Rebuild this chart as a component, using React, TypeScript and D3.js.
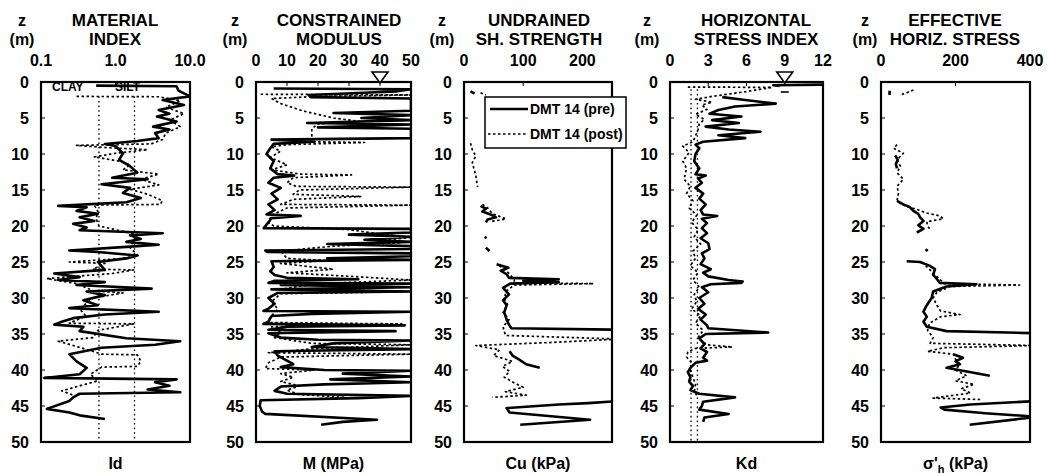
import React from "react";
import * as d3 from "d3";

type P = [number, number | null];

// depth axis
const DEPTH_TICKS = [0, 5, 10, 15, 20, 25, 30, 35, 40, 45, 50];

// top-axis ticks
const idTicks = [0.1, 1, 10];
const idTickLabels = ["0.1", "1.0", "10.0"];
const mTicks = [0, 10, 20, 30, 40, 50];
const cuTicks = [0, 100, 200];
const kdTicks = [0, 3, 6, 9, 12];
const shTicks = [0, 200, 400];

// reference lines
const idBoundaries = [0.6, 1.8]; // CLAY | SILT | SAND limits
const kdReference = [1.65, 2.15];

// ---------- Material index Id ----------
const idPre: P[] = [
  [0.5, 0.55], [0.6, 6.6], [1.2, 7.0], [2.0, 10], [2.5, 4.3], [3.2, 8.3], [3.9, 3.8], [4.4, 5.3], [4.8, 3.6],
  [5.5, 6.6], [6.2, 3.2], [6.6, 5.3], [7.1, 3.4], [7.8, 3.8], [8.2, 1.96], [8.6, 0.72], [8.9, 1.0], [9.9, 1.26],
  [10.8, 1.12], [11.7, 1.57], [12.6, 1.96], [13.3, 0.9], [13.5, 2.7], [14.2, 0.65], [14.7, 1.57], [15.4, 1.26],
  [16.1, 2.19], [16.7, 1.4], [17.2, 0.17], [17.4, 0.41], [17.9, 0.3], [18.3, 0.58], [18.8, 0.33], [19.3, 0.52],
  [19.7, 0.27], [20.2, 0.41], [20.6, 0.33], [21.0, 4.3], [21.3, 1.57], [21.8, 2.19], [22.2, 1.4], [22.6, 3.8],
  [22.9, 1.4], [23.4, 0.24], [23.6, 0.58], [24.1, 1.96], [24.5, 1.4], [25.0, 0.58], [26.1, 0.72], [26.6, 0.15],
  [27.1, 0.33], [27.5, 0.17], [27.8, 0.72], [28.2, 0.3], [28.7, 3.05], [29.1, 0.41], [29.6, 0.72], [30.3, 0.37],
  [31.0, 0.58], [31.4, 0.24], [31.9, 3.8], [32.3, 0.72], [32.8, 0.27], [33.3, 0.19], [33.7, 0.15], [34.0, 0.37],
  [34.6, 0.33], [35.6, 1.4], [36.0, 7.4], [36.5, 3.4], [36.9, 0.65], [37.8, 0.24], [38.8, 0.3], [39.7, 0.41],
  [40.6, 0.33], [41.1, 0.11], [41.3, 6.6], [41.7, 3.4], [42.2, 5.3], [42.7, 2.7], [43.1, 7.4], [43.3, 0.33],
  [43.8, 0.27], [44.3, 0.24], [45.4, 0.12], [45.9, 0.24], [46.3, 0.33], [46.8, 0.72],
];
const idPost: P[] = [
  [2.0, 0.3], [2.05, 3.8], [2.6, 7.4], [3.5, 4.75], [4.4, 8.3], [5.3, 5.3], [6.2, 7.4], [7.1, 4.75], [8.0, 4.26],
  [8.6, 3.0], [8.8, 0.3], [9.1, 0.72], [9.4, 2.7], [9.9, 1.0], [10.4, 0.52], [11.0, 1.12], [11.5, 1.57],
  [12.2, 1.26], [12.8, 3.8], [13.5, 2.19], [14.3, 3.8], [14.9, 1.57], [15.6, 2.73], [16.5, 4.26], [17.0, 4.0],
  [17.1, 0.52], [18.0, 0.58], [19.0, 0.55], [20.0, 0.6], [21.2, 1.96], [22.0, 1.75], [23.0, 1.57], [24.1, 2.0],
  [24.5, 1.26], [25.0, 0.24], [25.2, 0.72], [26.0, 0.5], [26.1, 1.75], [26.6, 0.9], [27.3, 0.12], [28.0, 0.3],
  [29.0, 0.5], [29.3, 1.26], [30.0, 0.5], [31.5, 0.33], [32.5, 0.4], [33.5, 0.24], [33.6, 1.75], [34.5, 0.58],
  [35.5, 0.5], [36.0, 0.17], [36.6, 0.27], [37.3, 0.46], [37.8, 0.65], [37.9, 1.96], [38.8, 2.19], [39.5, 1.96],
  [39.6, 0.65], [40.6, 0.46], [41.5, 0.58], [42.2, 0.33], [42.9, 0.19], [43.5, 0.27],
];

// ---------- Constrained modulus M (MPa) ----------
const mPre: P[] = [
  [0.9, 5.7], [1.0, 50], [1.3, 45], [1.5, 35], [1.8, 17], [2.1, 17.7], [2.3, 50], [4.0, 50], [4.3, 25], [4.6, 50],
  [5.0, 34], [5.3, 50], [5.7, 16.5], [5.9, 50], [6.3, 20], [6.5, 50], [7.8, 50], [8.0, 5], [8.3, 18.8], [8.6, 5.7],
  [9.2, 4.6], [10.0, 3.4], [11.0, 5.7], [12.0, 4.6], [12.8, 7], [13.0, 12.3], [13.3, 5.7], [14.0, 4], [14.7, 8],
  [15.5, 5], [16.3, 7], [17.0, 4], [17.8, 6], [18.4, 3.4], [18.6, 14.4], [18.9, 5], [19.5, 4], [20.3, 2.5],
  [20.4, 50], [20.9, 50], [21.2, 30], [21.5, 50], [21.9, 35], [22.2, 50], [22.5, 23], [22.8, 50], [23.2, 50],
  [23.4, 3], [23.6, 3.5], [23.8, 50], [24.2, 50], [24.5, 23], [24.7, 50], [24.9, 5], [25.7, 5.7], [26.3, 4.6],
  [26.8, 6], [27.2, 10], [27.4, 33], [27.6, 6], [27.9, 4], [28.0, 50], [28.2, 8], [28.5, 50], [28.8, 5],
  [29.1, 50], [29.3, 7], [30.0, 4], [30.8, 6], [31.5, 4], [31.8, 2.4], [31.9, 50], [32.2, 18], [32.5, 5],
  [33.3, 4], [33.6, 2.4], [33.8, 48], [34.0, 10], [34.4, 4], [34.6, 45], [34.9, 4], [35.5, 8], [35.8, 20],
  [35.9, 50], [36.3, 25], [36.8, 18], [37.1, 50], [37.4, 6], [38.0, 7], [38.7, 10], [39.2, 12], [39.6, 8],
  [40.0, 22], [40.1, 50], [40.5, 28], [40.9, 50], [41.3, 24], [41.7, 50], [42.0, 22], [42.3, 8], [42.9, 6],
  [43.3, 10], [43.6, 50], [43.9, 33], [44.2, 1.5], [45.0, 1.2], [45.8, 2], [46.1, 3], [46.9, 39], [47.2, 28],
  [47.6, 21],
];
const mPost: P[] = [
  [1.7, 1.5], [1.8, 50], [2.0, 20], [2.3, 5], [3.0, 8], [4.0, 15], [5.0, 25], [5.5, 34], [5.8, 20], [6.5, 18],
  [7.5, 18], [8.3, 17.7], [8.4, 35], [8.7, 10], [9.0, 5], [9.6, 7.9], [10.5, 4.6], [11.5, 10], [12.2, 5],
  [12.8, 14.4], [12.9, 30.8], [13.3, 12], [14.0, 10], [14.5, 13], [14.6, 50], [15.0, 14], [15.6, 12], [15.9, 34],
  [16.3, 12], [17.0, 8], [17.1, 50], [17.5, 10], [18.5, 5], [19.5, 4], [20.0, 5.7], [20.5, 30], [21.0, 38],
  [21.6, 50], [22.0, 40], [22.3, 47], [22.8, 25], [23.5, 8], [24.5, 10], [24.8, 23], [25.2, 7.9], [26.0, 25],
  [26.5, 10], [27.0, 30.8], [27.5, 50], [28.0, 20], [28.8, 7.9], [29.1, 50], [29.4, 8], [30.5, 5], [31.5, 7],
  [32.5, 5], [33.4, 3.4], [33.6, 47], [34.0, 5], [34.8, 8], [35.5, 6], [36.3, 18], [36.5, 50], [37.0, 20],
  [37.6, 4], [37.8, 50], [38.2, 8], [39.0, 4], [39.8, 3], [40.0, 18.8], [40.5, 8], [41.0, 12], [41.6, 8],
  [42.2, 14], [42.8, 10], [43.4, 14], [43.8, 28.6], [44.0, 20],
];

// ---------- Undrained shear strength Cu (kPa) ----------
const cuPre: P[] = [
  [1.3, 11], [1.6, 18], [1.7, null],
  [17.2, 28], [17.6, 37], [18.0, 31], [18.4, 45], [18.8, 54], [19.1, 40], [19.5, 37], [19.6, null],
  [21.5, 35], [21.7, 38], [21.8, null],
  [23.0, 37], [23.5, 43], [23.6, null],
  [25.3, 55], [25.8, 75], [26.2, 62], [26.7, 72], [27.2, 76], [27.4, 160], [27.6, 100], [27.8, 160], [28.0, 78],
  [28.6, 66], [29.5, 76], [30.3, 66], [31.0, 72], [32.0, 68], [33.0, 72], [33.7, 76], [34.2, 80], [34.4, 262],
  [34.5, null],
  [37.4, 77], [38.0, 82], [38.6, 94], [39.2, 105], [39.7, 128], [39.8, null],
  [44.3, 262], [44.6, 210], [44.8, 160], [45.3, 72], [45.9, 77], [46.9, 213], [47.6, 95],
];
const cuPost: P[] = [
  [1.5, 28], [1.8, 37], [1.9, null],
  [8.5, 11], [9.4, 14], [10.3, 20], [11.2, 14], [13.0, 20], [14.6, 23], [14.7, null],
  [17.0, 31], [17.5, 40], [18.3, 48], [19.0, 71], [19.4, 45], [19.5, null],
  [25.5, 60], [26.5, 75], [27.5, 85], [27.9, 85], [28.0, 219], [28.2, 85], [29.0, 72], [30.0, 68], [31.0, 74],
  [32.0, 66], [33.0, 76], [34.0, 66], [35.2, 70], [35.7, 262], [36.2, 140], [36.6, 20], [37.2, 60], [38.0, 50],
  [38.8, 82], [39.5, 65], [40.2, 77], [41.0, 68], [41.8, 85], [42.4, 100], [43.0, 70], [43.5, 105], [43.8, 48],
];

// ---------- Horizontal stress index Kd ----------
const kdPre: P[] = [
  [0.35, 12.5], [0.45, 8.1], [0.55, 8.6], [0.6, null],
  [2.1, 4.1], [2.5, 5.9], [3.0, 8.3], [3.4, 5.1], [3.9, 3.8], [4.4, 3.1], [4.8, 5.6], [5.3, 3.3], [5.7, 5.4],
  [6.2, 2.8], [6.6, 4.6], [6.9, 7.1], [7.4, 3.8], [7.8, 5.9], [8.3, 2.6], [8.7, 2.0], [9.2, 2.3], [10.0, 2.0],
  [11.0, 1.9], [12.0, 2.3], [12.8, 2.0], [13.0, 2.8], [13.4, 2.2], [14.0, 2.5], [14.7, 2.0], [15.5, 2.6],
  [16.2, 2.3], [17.0, 2.8], [17.8, 2.4], [18.4, 2.6], [18.6, 3.7], [19.0, 2.5], [19.6, 2.9], [20.3, 2.5],
  [21.0, 2.9], [21.7, 2.4], [22.4, 3.0], [23.2, 3.1], [23.8, 2.5], [24.5, 2.7], [25.3, 2.4], [26.0, 3.2],
  [26.5, 2.6], [27.0, 3.0], [27.5, 4.6], [27.7, 5.7], [27.9, 5.6], [28.1, 3.2], [28.5, 2.5], [29.2, 3.0],
  [30.0, 2.3], [30.8, 2.7], [31.5, 2.2], [32.3, 2.8], [33.0, 2.4], [33.8, 2.9], [34.2, 3.0], [34.8, 7.7],
  [35.0, 2.8], [35.6, 2.3], [36.4, 2.7], [37.0, 2.4], [37.5, 2.9], [38.3, 2.6], [38.7, 2.9], [39.0, 2.0],
  [39.7, 1.6], [40.3, 1.4], [41.0, 1.6], [41.6, 1.5], [42.2, 1.8], [42.8, 1.6], [43.3, 2.3], [43.8, 5.1],
  [44.4, 2.6], [45.0, 2.5], [45.5, 2.3], [46.1, 4.6], [46.6, 2.7], [47.2, 2.6],
];
const kdPost: P[] = [
  [0.7, 1.4], [0.75, 8.0], [1.3, 6.1], [1.7, 4.5], [2.0, 3.3], [2.4, 2.0], [2.8, 3.3], [3.2, 2.5], [3.8, 2.9],
  [4.5, 2.0], [5.2, 2.7], [5.8, 2.3], [6.6, 2.2], [7.5, 2.0], [8.3, 1.8], [8.9, 1.0], [9.8, 1.5], [11.0, 1.0],
  [12.0, 1.3], [13.5, 1.1], [14.5, 1.6], [15.5, 1.3], [16.5, 1.8], [17.5, 1.5], [18.5, 2.1], [19.5, 1.7],
  [20.5, 2.2], [21.5, 1.9], [22.5, 2.4], [23.5, 1.8], [24.5, 2.0], [25.5, 1.6], [26.5, 2.2], [27.5, 1.8],
  [28.5, 2.3], [29.5, 1.9], [30.5, 2.1], [31.5, 1.7], [32.5, 2.4], [33.5, 2.0], [34.5, 2.6], [35.5, 2.2],
  [36.5, 2.9], [36.8, 4.9], [37.0, 2.0], [37.5, 1.4], [38.2, 1.3], [39.0, 1.7], [40.0, 1.6], [41.0, 1.8],
  [42.0, 2.0], [43.0, 1.9], [43.5, 2.1],
];

// ---------- Effective horizontal stress σ'h (kPa) ----------
const shPre: P[] = [
  [1.2, 23], [1.8, 23], [1.9, null],
  [10.2, 38], [10.8, 45], [11.4, 40], [12.0, 43], [12.1, null],
  [16.5, 43], [17.0, 60], [17.4, 78], [17.9, 87], [18.3, 100], [18.8, 105], [19.3, 114], [19.9, 100],
  [20.4, 114], [20.9, 96], [21.0, null],
  [23.2, 120], [23.5, 125], [23.6, null],
  [24.9, 69], [25.0, 105], [25.5, 130], [26.0, 145], [26.8, 140], [27.3, 149], [27.9, 158], [28.1, 256],
  [28.4, 176], [29.1, 140], [30.0, 136], [31.0, 123], [31.9, 114], [32.6, 123], [33.3, 114], [34.0, 123],
  [34.6, 176], [34.9, 420], [35.0, null],
  [37.8, 194], [38.3, 220], [38.8, 200], [39.2, 212], [39.7, 176], [40.8, 292], [40.9, null],
  [44.3, 420], [44.8, 240], [45.2, 160], [45.5, 170], [46.0, 280], [46.5, 420], [47.6, 238],
];
const shPost: P[] = [
  [1.1, 87], [1.5, 69], [1.8, 52], [1.9, null],
  [8.7, 43], [9.2, 34], [9.9, 60], [10.8, 43], [11.7, 52], [12.6, 43], [13.5, 60], [14.5, 43], [15.4, 47],
  [16.5, 43], [17.0, 55], [17.7, 96], [18.2, 123], [18.6, 158], [19.0, 167], [19.4, 123], [20.0, 125],
  [20.5, 132], [20.6, null],
  [25.5, 120], [26.5, 140], [27.5, 160], [28.0, 170], [28.2, 372], [28.4, 185], [29.2, 150], [30.0, 140],
  [31.0, 150], [31.8, 160], [32.3, 212], [32.6, 160], [33.5, 130], [34.5, 125], [35.5, 140], [36.3, 132],
  [36.6, 420], [36.9, 170], [37.4, 125], [37.8, 194], [38.5, 200], [39.2, 212], [40.0, 200], [40.8, 230],
  [41.5, 200], [42.0, 250], [42.6, 215], [43.2, 240], [43.9, 140], [44.1, 270],
];

const FONT = "'Liberation Sans', Arial, Helvetica, sans-serif";
const Y_TOP = 82;
const Y_BOT = 442;

export default function App() {
  const y = d3.scaleLinear().domain([0, 50]).range([Y_TOP, Y_BOT]);

  const panels = [
    {
      key: "id",
      x: d3.scaleLog().domain([0.1, 10]).range([41, 190]),
      ticks: idTicks, labels: idTickLabels, title: ["MATERIAL", "INDEX"], titleX: 115, zX: 22,
      xlabel: "Id", pre: idPre, post: idPost,
    },
    {
      key: "m",
      x: d3.scaleLinear().domain([0, 50]).range([256, 411]),
      ticks: mTicks, labels: mTicks.map(String), title: ["CONSTRAINED", "MODULUS"], titleX: 339, zX: 235,
      xlabel: "M (MPa)", pre: mPre, post: mPost,
    },
    {
      key: "cu",
      x: d3.scaleLinear().domain([0, 250]).range([464, 612]),
      ticks: cuTicks, labels: cuTicks.map(String), title: ["UNDRAINED", "SH. STRENGTH"], titleX: 539, zX: 442,
      xlabel: "Cu (kPa)", pre: cuPre, post: cuPost,
    },
    {
      key: "kd",
      x: d3.scaleLinear().domain([0, 12]).range([670, 823]),
      ticks: kdTicks, labels: kdTicks.map(String), title: ["HORIZONTAL", "STRESS INDEX"], titleX: 756, zX: 647,
      xlabel: "Kd", pre: kdPre, post: kdPost,
    },
    {
      key: "sh",
      x: d3.scaleLinear().domain([0, 400]).range([881, 1030]),
      ticks: shTicks, labels: shTicks.map(String), title: ["EFFECTIVE", "HORIZ. STRESS"], titleX: 955, zX: 865,
      xlabel: "σ'h", pre: shPre, post: shPost,
    },
  ];

  const mkLine = (xs: (v: number) => number) =>
    d3
      .line<P>()
      .defined((d) => d[1] !== null)
      .x((d) => xs(d[1] as number))
      .y((d) => y(d[0]));

  const triangle = (cx: number) =>
    `M${cx - 8},${Y_TOP - 10} L${cx + 8},${Y_TOP - 10} L${cx},${Y_TOP + 1} Z`;

  return (
    <svg
      width={1047}
      height={474}
      style={{ position: "absolute", left: 0, top: 0, background: "#fff" }}
      fontFamily={FONT}
      fontWeight="bold"
    >
      <defs>
        {panels.map((p) => {
          const [r0, r1] = p.x.range();
          return (
            <clipPath id={`clip-${p.key}`} key={p.key}>
              <rect x={r0} y={Y_TOP} width={r1 - r0} height={Y_BOT - Y_TOP} />
            </clipPath>
          );
        })}
      </defs>
      <rect x={0} y={0} width={1047} height={474} fill="#fff" />
      {panels.map((p) => {
        const [r0, r1] = p.x.range();
        const line = mkLine(p.x as any);
        const center = (r0 + r1) / 2;
        return (
          <g key={p.key}>
            {/* titles */}
            <text x={p.titleX} y={26} textAnchor="middle" fontSize={17}>{p.title[0]}</text>
            <text x={p.titleX} y={45} textAnchor="middle" fontSize={17}>{p.title[1]}</text>
            <text x={p.zX} y={26} textAnchor="middle" fontSize={16}>z</text>
            <text x={p.zX} y={44.5} textAnchor="middle" fontSize={16}>(m)</text>
            {/* top tick labels */}
            {p.ticks.map((t, i) => (
              <text key={i} x={(p.x as any)(t)} y={66} textAnchor="middle" fontSize={16}>
                {p.labels[i]}
              </text>
            ))}
            {/* depth labels */}
            {DEPTH_TICKS.map((d) => (
              <text key={d} x={r0 - 12} y={y(d)} dy="0.36em" textAnchor="end" fontSize={16}>
                {d}
              </text>
            ))}
            {/* data */}
            <g clipPath={`url(#clip-${p.key})`}>
              {p.key === "id" &&
                idBoundaries.map((b) => (
                  <line key={b} x1={p.x(b)} x2={p.x(b)} y1={y(2.0)} y2={Y_BOT}
                    stroke="#000" strokeWidth={1.3} strokeDasharray="1.6 3" />
                ))}
              {p.key === "kd" &&
                kdReference.map((b) => (
                  <line key={b} x1={p.x(b)} x2={p.x(b)} y1={y(1.0)} y2={Y_BOT}
                    stroke="#000" strokeWidth={1.3} strokeDasharray="1.6 3" />
                ))}
              <path d={line(p.post) || ""} fill="none" stroke="#000" strokeWidth={1.7}
                strokeDasharray="2.5 2.5" strokeLinejoin="round" />
              <path d={line(p.pre) || ""} fill="none" stroke="#000" strokeWidth={2.6}
                strokeLinejoin="round" />
            </g>
            {/* frame */}
            <rect x={r0} y={Y_TOP} width={r1 - r0} height={Y_BOT - Y_TOP} fill="none" stroke="#000" strokeWidth={2.2} />
            {DEPTH_TICKS.slice(1, -1).map((d) => (
              <line key={d} x1={r0} x2={r0 + 4} y1={y(d)} y2={y(d)} stroke="#000" strokeWidth={1} />
            ))}
            {p.ticks.slice(1, -1).map((t, i) => (
              <line key={i} x1={(p.x as any)(t)} x2={(p.x as any)(t)} y1={Y_TOP} y2={Y_TOP + 4} stroke="#000" strokeWidth={1} />
            ))}
            {/* bottom label */}
            {p.key === "sh" ? (
              <text x={center} y={469} textAnchor="middle" fontSize={16}>
                σ'<tspan dy={4} fontSize={11}>h</tspan><tspan dy={-4}> (kPa)</tspan>
              </text>
            ) : (
              <text x={center} y={469} textAnchor="middle" fontSize={16}>{p.xlabel}</text>
            )}
          </g>
        );
      })}
      {/* CLAY / SILT labels */}
      <text x={52} y={91} fontSize={12}>CLAY</text>
      <text x={115} y={91} fontSize={12}>SILT</text>
      {/* water table markers */}
      {[panels[1].x(40), panels[3].x(9)].map((cx, i) => (
        <g key={i}>
          <path d={triangle(cx)} fill="#fff" stroke="#000" strokeWidth={1.6} />
          <line x1={cx - 4} x2={cx + 4} y1={92} y2={92} stroke="#000" strokeWidth={1.6} />
        </g>
      ))}
      {/* legend */}
      <g>
        <rect x={485} y={97} width={141} height={51} fill="#fff" stroke="#000" strokeWidth={1.5} />
        <line x1={490} x2={528} y1={109} y2={109} stroke="#000" strokeWidth={2.6} />
        <text x={530} y={114} fontSize={14}>DMT 14 (pre)</text>
        <line x1={488} x2={528} y1={134} y2={134} stroke="#000" strokeWidth={1.7} strokeDasharray="2.5 2.5" />
        <text x={530} y={139} fontSize={14}>DMT 14 (post)</text>
      </g>
    </svg>
  );
}
